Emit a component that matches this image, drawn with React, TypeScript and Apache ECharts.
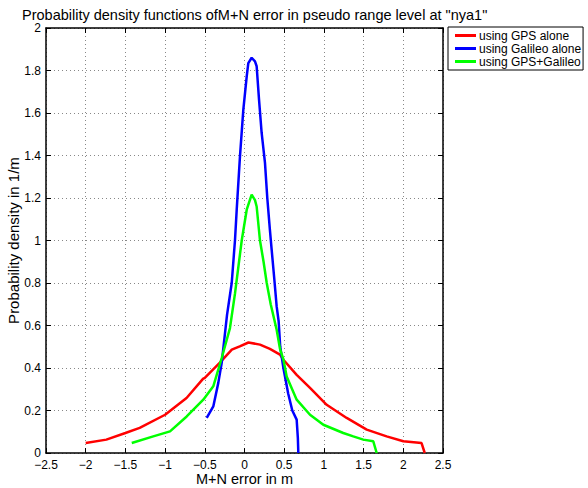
import React, { useEffect, useRef } from "react";
import * as echarts from "echarts";

const gpsX = [-2.0, -1.74, -1.5, -1.32, -1.0, -0.73, -0.52, -0.5, -0.31, -0.18, -0.16, -0.06, 0.05, 0.195, 0.32, 0.447, 0.49, 0.657, 0.825, 1.035, 1.287, 1.539, 1.79, 2.0, 2.23, 2.27];
const gpsY = [0.047, 0.063, 0.094, 0.118, 0.18, 0.259, 0.35, 0.353, 0.425, 0.478, 0.486, 0.502, 0.52, 0.51, 0.49, 0.463, 0.439, 0.368, 0.306, 0.227, 0.165, 0.11, 0.078, 0.055, 0.047, 0.0];

const galX = [-0.476, -0.393, -0.33, -0.287, -0.22, -0.161, -0.12, -0.098, -0.057, -0.015, 0.028, 0.048, 0.09, 0.132, 0.153, 0.183, 0.216, 0.258, 0.287, 0.32, 0.342, 0.375, 0.405, 0.43, 0.45, 0.49, 0.55, 0.602, 0.657, 0.672, 0.678];
const galY = [0.165, 0.219, 0.33, 0.424, 0.65, 0.8, 1.0, 1.145, 1.396, 1.615, 1.772, 1.835, 1.86, 1.843, 1.82, 1.663, 1.506, 1.365, 1.2, 1.05, 0.957, 0.82, 0.69, 0.62, 0.5, 0.4, 0.28, 0.2, 0.157, 0.07, 0.0];

const comX = [-1.42, -1.149, -0.938, -0.728, -0.519, -0.393, -0.287, -0.183, -0.12, -0.035, 0.028, 0.09, 0.132, 0.153, 0.195, 0.24, 0.28, 0.33, 0.405, 0.447, 0.49, 0.531, 0.657, 0.825, 0.993, 1.244, 1.37, 1.496, 1.622, 1.665];
const comY = [0.047, 0.078, 0.102, 0.172, 0.251, 0.314, 0.447, 0.588, 0.75, 1.0, 1.145, 1.216, 1.19, 1.16, 1.0, 0.9, 0.8, 0.7, 0.58, 0.49, 0.44, 0.36, 0.251, 0.18, 0.133, 0.094, 0.078, 0.063, 0.055, 0.0];

const seriesNames = ["using GPS alone", "using Galileo alone", "using GPS+Galileo"];
const titleText = 'Probability density functions ofM+N error in pseudo range level at "nya1"';
const xName = "M+N error in m";
const yName = "Probability density in 1/m";

const zip = (xs: number[], ys: number[]) => xs.map((x, i) => [x, ys[i]]);

export default function App() {
  const ref = useRef<HTMLDivElement>(null);
  useEffect(() => {
    if (!ref.current) return;
    const chart = echarts.init(ref.current, null, { renderer: "svg" });
    const font = "Liberation Sans, Arial, Helvetica, sans-serif";
    const fmtX = (v: number) => (v < 0 ? "\u2212" + String(-v) : String(v));
    const baseX = { type: "value" as const, min: -2.5, max: 2.5, interval: 0.5 };
    const baseY = { type: "value" as const, min: 0, max: 2, interval: 0.2 };
    const axisLine = { show: true, onZero: false, lineStyle: { color: "#000", width: 1.5 } };
    const axisTick = { show: true, inside: true, length: 5, lineStyle: { color: "#000" } };
    const splitLine = { show: true, lineStyle: { color: "#888", type: [1, 3], width: 1 } };
    chart.setOption({
      animation: false,
      textStyle: { fontFamily: font },
      title: {
        text: titleText,
        left: 17,
        top: 2,
        textStyle: { fontSize: 14.5, fontWeight: "normal", color: "#000", fontFamily: font },
      },
      grid: {
        left: 46,
        top: 28,
        width: 397,
        height: 425,
        containLabel: false,
        outerBoundsMode: "none",
      },
      legend: {
        left: 448,
        top: 27,
        orient: "vertical",
        data: seriesNames,
        icon: "rect",
        itemWidth: 21,
        itemHeight: 3,
        itemGap: 0,
        padding: [2, 2, 2, 7],
        borderColor: "#000",
        borderWidth: 1,
        backgroundColor: "#fff",
        textStyle: { fontSize: 12, lineHeight: 13, color: "#000", fontFamily: font, padding: [0, 0, 0, -2] },
      },
      xAxis: [
        {
          ...baseX,
          position: "bottom",
          name: xName,
          nameLocation: "middle",
          nameGap: 18,
          nameMoveOverlap: false,
          nameTextStyle: { fontSize: 14.5, color: "#000", fontFamily: font },
          axisLine,
          axisTick,
          axisLabel: { fontSize: 12, lineHeight: 11, color: "#000", margin: 6, formatter: fmtX, fontFamily: font },
          splitLine,
        },
        {
          ...baseX,
          position: "top",
          axisLine,
          axisTick,
          axisLabel: { show: false },
          splitLine: { show: false },
        },
      ],
      yAxis: [
        {
          ...baseY,
          position: "left",
          name: yName,
          nameLocation: "middle",
          nameGap: 25,
          nameMoveOverlap: false,
          nameTextStyle: { fontSize: 15, color: "#000", fontFamily: font },
          axisLine,
          axisTick,
          axisLabel: { fontSize: 12, lineHeight: 11, color: "#000", margin: 5, fontFamily: font },
          splitLine,
        },
        {
          ...baseY,
          position: "right",
          axisLine,
          axisTick,
          axisLabel: { show: false },
          splitLine: { show: false },
        },
      ],
      series: [
        { name: seriesNames[0], data: zip(gpsX, gpsY), color: "#ff0000" },
        { name: seriesNames[1], data: zip(galX, galY), color: "#0000ff" },
        { name: seriesNames[2], data: zip(comX, comY), color: "#00ff00" },
      ].map((s) => ({
        type: "line",
        name: s.name,
        data: s.data,
        showSymbol: false,
        symbol: "none",
        xAxisIndex: 0,
        yAxisIndex: 0,
        itemStyle: { color: s.color },
        lineStyle: { color: s.color, width: 2.5 },
      })),
    });
    return () => chart.dispose();
  }, []);
  return (
    <div
      ref={ref}
      style={{ position: "fixed", left: 0, top: 0, width: 588, height: 488, background: "#fff" }}
    />
  );
}
